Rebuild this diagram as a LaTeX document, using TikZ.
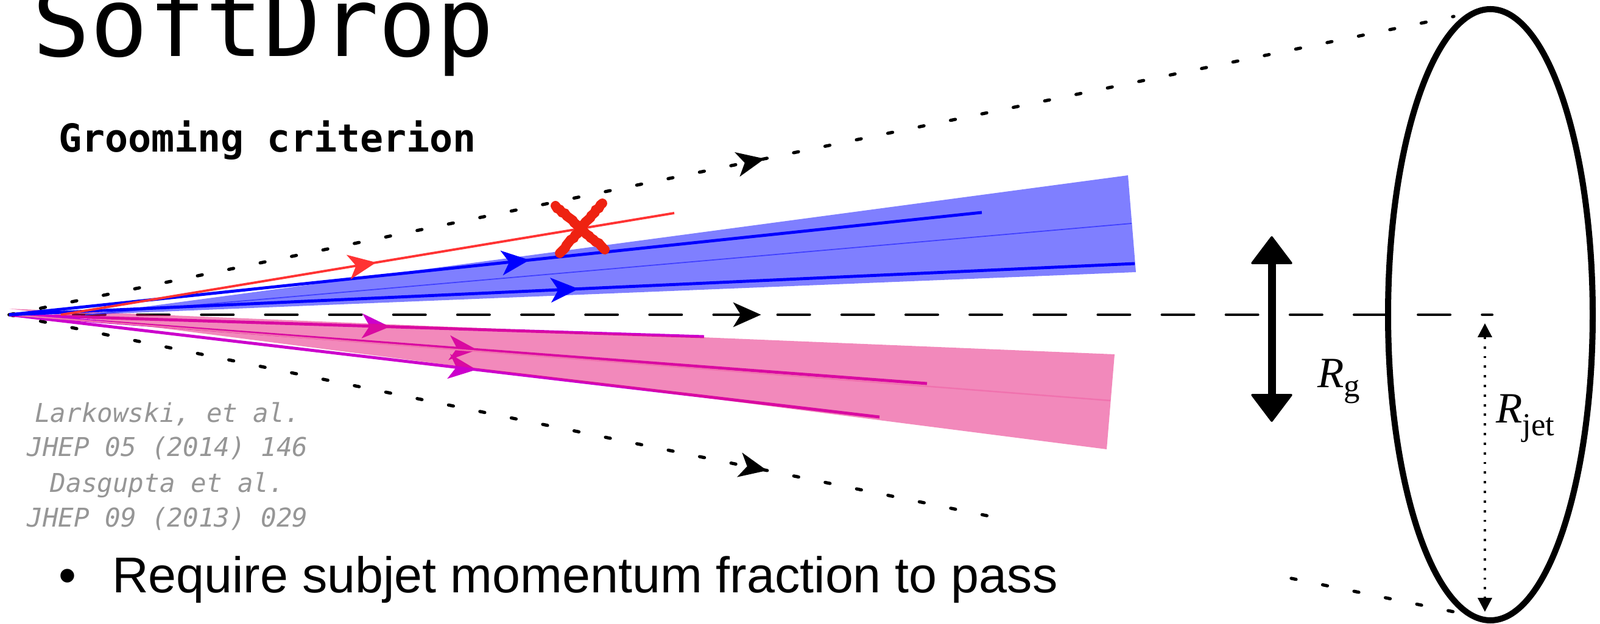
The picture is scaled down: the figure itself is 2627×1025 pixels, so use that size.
\documentclass[tikz,border=0pt]{standalone}
\usepackage{fontspec}
\setmainfont{Liberation Sans}
\setmonofont{DejaVu Sans Mono}
\newfontfamily\timesfont{Liberation Serif}
\usetikzlibrary{arrows.meta, decorations.markings, decorations.pathmorphing}

\definecolor{subred}{RGB}{255,51,51}
\definecolor{crossred}{RGB}{238,34,17}
\definecolor{submag}{RGB}{204,0,204}
\definecolor{conepink}{RGB}{230,20,120}
\definecolor{refgray}{RGB}{150,150,150}

\begin{document}
\begin{tikzpicture}[
        x=0.01cm, y=-0.01cm,
        every node/.style={inner sep=0pt, outer sep=0pt},
        headat/.style={postaction={decorate, decoration={markings,
            mark=at position #1 with {\arrow{Stealth[length=13pt, width=11.5pt, inset=3.5pt]}}}}},
        axisline/.style={line width=1.2pt, line cap=round, dash pattern=on 15pt off 14.9pt},
        coneedge/.style={line width=1.5pt, line cap=round, dash pattern=on 2.3pt off 12.66pt},
        subjet/.style={line width=1.4pt},
        reftext/.style={anchor=base, text=refgray, font=\ttfamily\itshape\fontsize{12.1}{12.1}\selectfont},
        rlabel/.style={anchor=base west, font=\timesfont\fontsize{20.2}{20.2}\selectfont}
    ]
        \useasboundingbox (0,0) rectangle (2627,1025);

        % titles
        \node[anchor=base west, font=\ttfamily\fontsize{44.7}{44.7}\selectfont] (title) at (54,93) {SoftDrop};
        \node[anchor=base west, font=\ttfamily\bfseries\fontsize{18}{18}\selectfont] (crit) at (96,250) {Grooming criterion};

        % points of the jet
        \coordinate (O) at (15,517);
        \coordinate (axisend) at (2450,517);
        \coordinate (jetc) at (2447,517);
        \coordinate (jettop) at (2387,27);
        \coordinate (jetbot) at (2387,1005);
        \coordinate (lowcut) at (1659,855);
        \coordinate (lowback) at (2120,950);

        % jet cone and axis
        \draw[axisline, headat=0.507] (O) -- (axisend);
        \draw[coneedge, headat=0.523] (O) -- (jettop);
        \draw[coneedge, headat=0.757] (O) -- (lowcut);
        \draw[coneedge] (lowback) -- (jetbot);

        % lower prong
        \coordinate (papex) at (15,507);
        \coordinate (pA) at (1156,553);
        \coordinate (pB) at (1522,630);
        \coordinate (pC) at (1444,685);
        \coordinate (pmid) at (1823,658);
        \coordinate (pup) at (1830,582);
        \coordinate (plow) at (1817,738);
        \draw[submag, subjet, headat=0.548] (O) -- (pA);
        \draw[submag, subjet, headat=0.51] (O) -- (pB);
        \draw[submag, subjet, headat=0.537] (O) -- (pC);
        \fill[conepink, opacity=0.5] (papex) -- (pup) -- (plow) -- cycle;
        \draw[conepink!60!white, line width=0.7pt] (O) -- (pmid);

        % upper prong
        \coordinate (bapex) at (140,517);
        \coordinate (bup) at (1852,288);
        \coordinate (blow) at (1865,447);
        \coordinate (bmid) at (1858,367);
        \coordinate (bA) at (1612,349);
        \coordinate (bB) at (1863,433);
        \fill[blue, opacity=0.5] (bapex) -- (bup) -- (blow) -- cycle;
        \draw[blue!75!white, line width=0.5pt] (bapex) -- (bmid);
        \draw[blue, subjet, headat=0.535] (O) -- (bA);
        \draw[blue, subjet, headat=0.506] (O) -- (bB);

        % dropped branch
        \coordinate (rA) at (100,517);
        \coordinate (rB) at (1107,350);
        \draw[subred, line width=1.1pt, headat=0.514] (rA) -- (rB);
        \draw[crossred, line width=4.5pt, line cap=round, decorate,
            decoration={random steps, segment length=1.5pt, amplitude=0.4pt}]
            (912,338) -- (993,410) (989,334) -- (919,416);

        % jet area and radii
        \draw[line width=2.85pt] (jetc) ellipse [x radius=168, y radius=502];
        \coordinate (rgtop) at (2088,388);
        \coordinate (rgbot) at (2088,693);
        \draw[line width=3.7pt, {Triangle[length=13.4pt, width=20pt, line width=1pt, round]}-{Triangle[length=13.4pt, width=20pt, line width=1pt, round]}] (rgtop) -- (rgbot);
        \coordinate (rjtop) at (2438,531);
        \coordinate (rjbot) at (2438,1005);
        \draw[line width=1.1pt, dash pattern=on 1.1pt off 3.4pt, {Triangle[length=6.5pt, width=6.5pt]}-{Triangle[length=6.5pt, width=6.5pt]}] (rjtop) -- (rjbot);
        \node[rlabel] (Rg) at (2163,637) {\textit{R}\raisebox{-4pt}{\fontsize{15}{15}\selectfont g}};
        \node[rlabel] (Rjet) at (2456,695) {\textit{R}\raisebox{-5.7pt}{\fontsize{15}{15}\selectfont jet}};

        % references
        \node[reftext] (ref1) at (275,694) {Larkowski, et al.};
        \node[reftext] (ref2) at (275,750) {JHEP 05 (2014) 146};
        \node[reftext] (ref3) at (275,808) {Dasgupta et al.};
        \node[reftext] (ref4) at (275,865) {JHEP 09 (2013) 029};

        % bullet
        \node[anchor=base, font=\fontsize{23.5}{23.5}\selectfont] (dot) at (111,973) {\textbullet};
        \node[anchor=base west, font=\fontsize{23.5}{23.5}\selectfont] (req) at (184,973) {Require subjet momentum fraction to pass};
    \end{tikzpicture}
\end{document}
